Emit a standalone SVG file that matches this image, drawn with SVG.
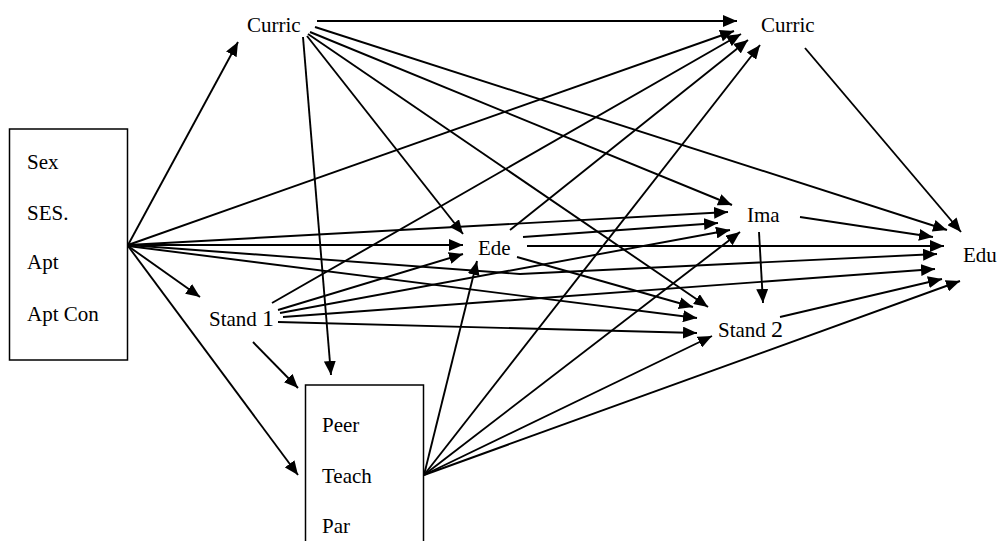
<svg xmlns="http://www.w3.org/2000/svg" width="998" height="541" viewBox="0 0 998 541">
<style>
text{font-family:"Liberation Serif","DejaVu Serif",serif;font-size:21px;fill:#000}
.big{font-size:24px}
.box{fill:#fff;stroke:#000;stroke-width:1.5}
.e{fill:none;stroke:#000;stroke-width:1.9;marker-end:url(#ah)}
</style>
<defs>
<marker id="ah" markerUnits="userSpaceOnUse" markerWidth="14" markerHeight="12" refX="14" refY="6" orient="auto">
<path d="M0,0 L14,6 L0,12 z" fill="#000"/>
</marker>
</defs>
<rect width="998" height="541" fill="#fff"/>
<g id="node-background">
<rect class="box" x="9.5" y="129" width="118" height="231"/>
<text x="27" y="169">Sex</text>
<text x="27" y="220">SES.</text>
<text x="27" y="269">Apt</text>
<text x="27" y="321">Apt Con</text>
</g>
<g id="node-influences">
<rect class="box" x="305.5" y="385" width="118" height="170"/>
<text x="322" y="432">Peer</text>
<text x="322" y="483">Teach</text>
<text x="322" y="533">Par</text>
</g>
<g id="node-curric1"><text x="247" y="32">Curric</text></g>
<g id="node-curric2"><text x="761" y="32">Curric</text></g>
<g id="node-stand1"><text x="209" y="326">Stand <tspan class="big">1</tspan></text></g>
<g id="node-stand2"><text x="718" y="337">Stand <tspan class="big">2</tspan></text></g>
<g id="node-ede"><text x="478" y="255">Ede</text></g>
<g id="node-ima"><text x="747" y="222">Ima</text></g>
<g id="node-edu"><text x="963" y="262">Edu</text></g>
<g id="connectors">
<!-- from background box -->
<line class="e" x1="128" y1="245" x2="238" y2="42"/>
<line class="e" x1="128" y1="245" x2="734" y2="31"/>
<line class="e" x1="128" y1="245" x2="728" y2="212"/>
<line class="e" x1="128" y1="245" x2="463" y2="245"/>
<polyline class="e" points="128,245 520,274 937,254"/>
<line class="e" x1="128" y1="246" x2="697" y2="318"/>
<line class="e" x1="128" y1="246" x2="200" y2="297"/>
<line class="e" x1="128" y1="246" x2="298" y2="475"/>
<!-- from Curric 1 -->
<line class="e" x1="317" y1="21" x2="737" y2="21"/>
<line class="e" x1="315" y1="27" x2="947" y2="230"/>
<line class="e" x1="310" y1="32" x2="732" y2="205"/>
<line class="e" x1="308" y1="34" x2="708" y2="307"/>
<line class="e" x1="307" y1="36" x2="463" y2="234"/>
<line class="e" x1="303" y1="37" x2="331" y2="375"/>
<!-- from Stand 1 -->
<line class="e" x1="272" y1="303" x2="741" y2="34"/>
<line class="e" x1="278" y1="310" x2="463" y2="254"/>
<line class="e" x1="280" y1="313" x2="730" y2="230"/>
<line class="e" x1="283" y1="317" x2="935" y2="269"/>
<line class="e" x1="278" y1="322" x2="697" y2="333"/>
<line class="e" x1="253" y1="342" x2="298" y2="388"/>
<!-- from Ede -->
<line class="e" x1="510" y1="230" x2="748" y2="40"/>
<line class="e" x1="523" y1="237" x2="718" y2="223"/>
<line class="e" x1="527" y1="246" x2="944" y2="246"/>
<line class="e" x1="517" y1="257" x2="693" y2="307"/>
<!-- from Ima -->
<line class="e" x1="800" y1="217" x2="933" y2="237"/>
<line class="e" x1="759" y1="232" x2="763" y2="303"/>
<!-- from Curric 2 -->
<line class="e" x1="805" y1="48" x2="961" y2="232"/>
<!-- from Stand 2 -->
<line class="e" x1="780" y1="317" x2="942" y2="279"/>
<!-- from Peer/Teach/Par box -->
<line class="e" x1="424" y1="475" x2="477" y2="261"/>
<line class="e" x1="424" y1="475" x2="760" y2="45"/>
<line class="e" x1="424" y1="475" x2="740" y2="232"/>
<line class="e" x1="424" y1="475" x2="712" y2="336"/>
<line class="e" x1="424" y1="475" x2="960" y2="281"/>
</g>
</svg>
